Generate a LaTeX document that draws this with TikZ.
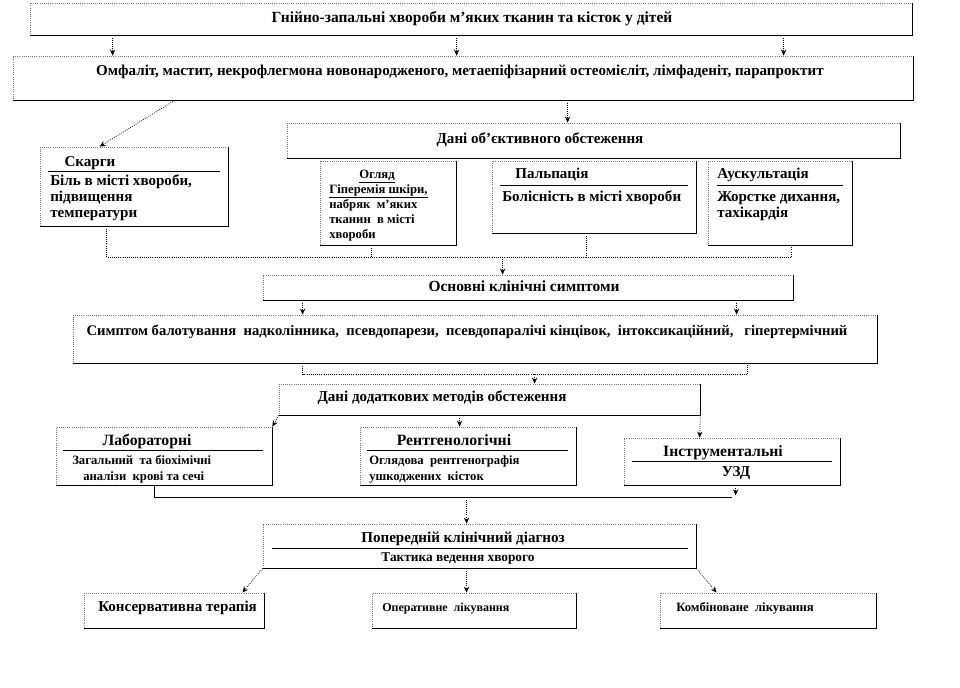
\documentclass[tikz,border=0pt]{standalone}
\usepackage{fontspec}
\setmainfont{Liberation Serif}
\usetikzlibrary{arrows.meta,positioning,calc,fit}
\tikzset{
  boxln/.style={draw=black!55, densely dotted, line width=0.6pt, inner sep=0pt},
  edgeln/.style={line width=0.7pt, black},
  linkln/.style={densely dotted, line width=0.6pt},
  arrln/.style={-{Stealth[length=4.5pt,width=4pt]}, densely dotted, line width=0.6pt},
  ruleln/.style={line width=1.2pt},
  bigtx/.style={font=\bfseries\fontsize{11.3}{12}\selectfont, inner sep=0pt, text height=7.5pt, text depth=2pt},
  midtx/.style={font=\bfseries\fontsize{10}{12}\selectfont, inner sep=0pt, text height=7pt, text depth=2pt},
  smtx/.style={font=\bfseries\fontsize{9.5}{10}\selectfont, inner sep=0pt, text height=6.5pt, text depth=1.8pt},
}
\newcommand{\edgebox}[1]{%
  \draw[edgeln] (#1.north east) -- (#1.south east) -- (#1.south west);
}

\begin{document}
\begin{tikzpicture}[x=0.75pt, y=-0.75pt]
    \useasboundingbox (0,0) rectangle (960,688);
    % diseases
    \node[boxln, fit={(30,3) (912,35)}] (gen) {};
    \node[bigtx, font=\bfseries\fontsize{11.6}{12}\selectfont] (gentx) at (472,19) {Гнійно-запальні хвороби м’яких тканин та кісток у дітей};
    \node[boxln, fit={(13,56) (913,100)}] (forms) {};
    \node[bigtx] (formstx) at (460,72) {Омфаліт, мастит, некрофлегмона новонародженого, метаепіфізарний остеомієліт, лімфаденіт, парапроктит};
    \foreach \dx in {83,427,754}
      \draw[arrln] ($(gen.south west)+(\dx,0)$) -- ($(forms.north west)+(\dx+17,0)$);
    % complaints
    \node[boxln, fit={(40,147) (228,226)}] (skarg) {};
    \draw[arrln] ($(forms.south west)+(162,0)$) -- ($(skarg.north west)+(60,0)$);
    \node[bigtx] (skargtt) at (90,163) {Скарги};
    \draw[ruleln] ($(skarg.north west)+(8,25)$) -- ($(skarg.north east)+(-8,25)$);
    \node[bigtx, anchor=west] (skarg1) at (50,182) {Біль в місті хвороби,};
    \node[bigtx, anchor=west] (skarg2) at (50,198) {підвищення};
    \node[bigtx, anchor=west] (skarg3) at (50,214) {температури};
    % objective examination
    \node[boxln, fit={(287,123) (900,158)}] (obj) {};
    \node[bigtx] (objtx) at (540,140) {Дані об’єктивного обстеження};
    \draw[arrln] ($(forms.south west)+(555,0)$) -- ($(obj.north west)+(281,0)$);
    \node[boxln, fit={(320,161) (456,245)}] (ogl) {};
    \node[smtx] (ogltt) at (377,175) {\underline{Огляд}};
    \node[smtx, anchor=west] (ogl1) at (329,190) {\underline{Гіперемія шкіри,}};
    \node[smtx, anchor=west] (ogl2) at (329,205) {набряк\ \ м’яких};
    \node[smtx, anchor=west] (ogl3) at (329,220) {тканин\ \ в місті};
    \node[smtx, anchor=west] (ogl4) at (329,235) {хвороби};
    \node[boxln, fit={(492,161) (696,233)}] (palp) {};
    \node[bigtx] (palptt) at (552,175) {Пальпація};
    \draw[ruleln] ($(palp.north west)+(8,25)$) -- ($(palp.north east)+(-8,25)$);
    \node[bigtx, anchor=west] (palp1) at (502,198) {Болісність в місті хвороби};
    \node[boxln, fit={(708,161) (852,245)}] (ausk) {};
    \node[bigtx, anchor=west] (ausktt) at (717,175) {Аускультація};
    \draw[ruleln] ($(ausk.north west)+(9,25)$) -- ($(ausk.north east)+(-9,25)$);
    \node[bigtx, anchor=west] (ausk1) at (717,198) {Жорстке дихання,};
    \node[bigtx, anchor=west] (ausk2) at (717,214) {тахікардія};
    \draw[linkln] ($(skarg.south west)+(67,0)$) -- ++(0,31) -| ($(ausk.south west)+(84,0)$);
    \draw[linkln] ($(ogl.south west)+(52,0)$) -- ++(0,12);
    \draw[linkln] ($(palp.south west)+(95,0)$) -- ++(0,24);
    % main symptoms
    \node[boxln, fit={(263,275) (793,300)}] (osn) {};
    \node[bigtx, font=\bfseries\fontsize{11.6}{12}\selectfont] (osntx) at (524,288) {Основні клінічні симптоми};
    \draw[arrln] ($(osn.north west)+(240,-18)$) -- ($(osn.north west)+(240,0)$);
    \node[boxln, fit={(73,315) (877,363)}] (sym) {};
    \node[bigtx, font=\bfseries\fontsize{11}{12}\selectfont] (symtx) at (467,332) {Симптом балотування\ \ надколінника,\ \ псевдопарези,\ \ псевдопаралічі кінцівок,\ \ інтоксикаційний,\ \ \ гіпертермічний};
    \foreach \dx in {40,474}
      \draw[arrln] ($(osn.south west)+(\dx,0)$) -- ($(sym.north west)+(\dx+190,0)$);
    \draw[linkln] ($(sym.south west)+(230,0)$) -- ++(0,11) -| ($(sym.south west)+(675,0)$);
    % additional methods
    \node[boxln, fit={(279,384) (700,415)}] (dod) {};
    \draw[arrln] ($(sym.south west)+(462,11)$) -- ($(dod.north west)+(256,0)$);
    \node[bigtx] (dodtx) at (442,398) {Дані додаткових методів обстеження};
    \node[boxln, fit={(56,427) (272,485)}] (lab) {};
    \node[bigtx, font=\bfseries\fontsize{11.8}{12}\selectfont] (labtt) at (147,442) {Лабораторні};
    \draw[ruleln] ($(lab.north west)+(7,24)$) -- ($(lab.north east)+(-9,24)$);
    \node[smtx, anchor=west] (lab1) at (72,461) {Загальний\ \ та біохімічні};
    \node[smtx, anchor=west] (lab2) at (83,477) {аналізи\ \ крові та сечі};
    \node[boxln, fit={(360,427) (576,485)}] (rent) {};
    \node[bigtx, font=\bfseries\fontsize{11.8}{12}\selectfont] (renttt) at (454,442) {Рентгенологічні};
    \draw[ruleln] ($(rent.north west)+(7,24)$) -- ($(rent.north east)+(-8,24)$);
    \node[smtx, anchor=west] (rent1) at (369,461) {Оглядова\ \ рентгенографія};
    \node[smtx, anchor=west] (rent2) at (369,477) {ушкоджених\ \ кісток};
    \node[boxln, fit={(624,438) (840,485)}] (instr) {};
    \node[bigtx, font=\bfseries\fontsize{11.8}{12}\selectfont] (instrtt) at (723,453) {Інструментальні};
    \draw[ruleln] ($(instr.north west)+(8,24)$) -- ($(instr.north east)+(-8,24)$);
    \node[bigtx] (instr1) at (736,473) {УЗД};
    \draw[arrln] (dod.south west) -- (lab.north east);
    \draw[arrln] ($(dod.south west)+(181,0)$) -- ($(rent.north west)+(100,0)$);
    \draw[arrln] (dod.south east) -- ($(instr.north west)+(76,0)$);
    \draw[edgeln] ($(lab.south west)+(99,0)$) -- ++(0,12) -- ($(instr.south west)+(108,12)$);
    \draw[arrln] ($(instr.south west)+(112,0)$) -- ++(0,10);
    % diagnosis and treatment
    \node[boxln, fit={(263,524) (696,568)}] (prel) {};
    \draw[arrln] ($(lab.south west)+(411,12)$) -- ($(prel.north west)+(204,0)$);
    \node[bigtx] (preltt) at (463,539) {Попередній клінічний діагноз};
    \draw[ruleln] ($(prel.north west)+(9,25)$) -- ($(prel.north east)+(-8,25)$);
    \node[midtx] (prel1) at (458,558) {Тактика ведення хворого};
    \node[boxln, fit={(84,593) (264,628)}] (kons) {};
    \node[bigtx, anchor=west] (konstx) at (98,608) {Консервативна терапія};
    \node[boxln, fit={(372,593) (576,628)}] (oper) {};
    \node[smtx, font=\bfseries\fontsize{9}{10}\selectfont, anchor=west] (opertx) at (382,608) {Оперативне\ \ лікування};
    \node[boxln, fit={(660,593) (876,628)}] (komb) {};
    \node[smtx, anchor=west] (kombtx) at (676,608) {Комбіноване\ \ лікування};
    \draw[arrln] (prel.south west) -- ($(kons.north east)+(-22,0)$);
    \draw[arrln] ($(prel.south west)+(204,0)$) -- ($(oper.north west)+(95,0)$);
    \draw[arrln] (prel.south east) -- ($(komb.north west)+(57,0)$);
    \foreach \b in {gen,forms,skarg,obj,ogl,palp,ausk,osn,sym,dod,lab,rent,instr,prel,kons,oper,komb}
      {\edgebox{\b}}
\end{tikzpicture}
\end{document}
